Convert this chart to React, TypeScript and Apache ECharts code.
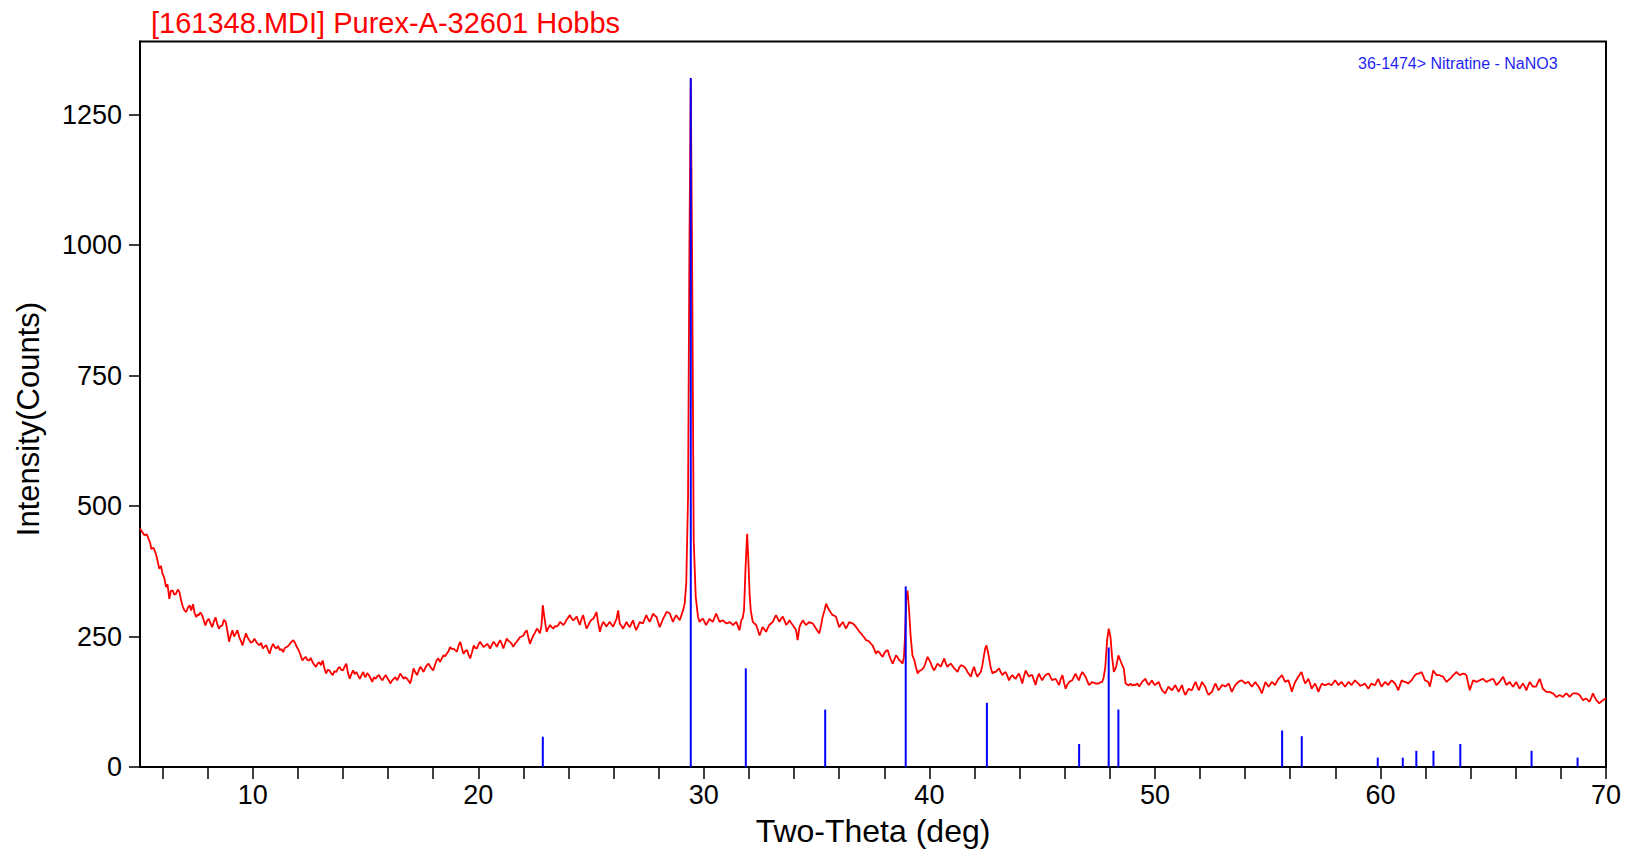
import React, { useEffect, useRef } from 'react';
import * as echarts from 'echarts';

// Measured scan (2θ in degrees, intensity in counts), split by range
const scanA: [number, number][] = [[5.0,457],[5.1,450],[5.2,444],[5.3,446],[5.37,438],[5.45,430],[5.5,418],[5.6,420],[5.7,409],[5.78,395],[5.85,380],[5.93,385],[6.0,370],[6.08,362],[6.15,345],[6.22,350],[6.3,322],[6.37,338],[6.45,338],[6.52,330],[6.6,332],[6.68,340],[6.75,335],[6.82,320],[6.9,307],[6.97,300],[7.05,297],[7.12,305],[7.2,310],[7.27,300],[7.35,312],[7.42,295],[7.5,287],[7.55,292],[7.6,291],[7.68,296],[7.75,291],[7.82,282],[7.9,271],[7.97,280],[8.05,284],[8.12,276],[8.2,268],[8.27,278],[8.35,287],[8.42,275],[8.5,265],[8.57,270],[8.65,271],[8.72,282],[8.8,278],[8.87,262],[8.95,240],[9.02,252],[9.1,262],[9.17,250],[9.25,256],[9.32,262],[9.4,249],[9.47,242],[9.55,233],[9.62,245],[9.7,256],[9.77,248],[9.85,243],[9.92,238],[10.0,240],[10.07,246],[10.15,240],[10.22,236],[10.3,233],[10.37,238],[10.45,227],[10.52,231],[10.6,233],[10.67,225],[10.75,217],[10.82,228],[10.9,236],[10.97,230],[11.05,227],[11.12,232],[11.2,224],[11.27,226],[11.35,220],[11.42,228],[11.5,230],[11.57,232],[11.65,236],[11.72,240],[11.8,243],[11.87,238],[11.95,230],[12.02,225],[12.1,217],[12.15,210],[12.2,204],[12.27,208],[12.35,211],[12.42,205],[12.5,204],[12.57,209],[12.65,201],[12.72,196],[12.8,192],[12.87,198],[12.95,201],[13.02,195],[13.1,204],[13.17,190],[13.25,179],[13.32,186],[13.4,185],[13.47,180],[13.55,176],[13.62,184],[13.7,182],[13.77,188],[13.85,192],[13.92,186],[14.0,185],[14.07,192],[14.15,198],[14.22,180],[14.3,169],[14.37,178],[14.45,185],[14.52,178],[14.6,182],[14.67,175],[14.75,169],[14.82,176],[14.9,182],[14.95,175],[15.0,172],[15.07,180],[15.15,176],[15.22,170],[15.3,163],[15.37,172],[15.45,169],[15.52,174],[15.6,176],[15.67,170],[15.75,166],[15.82,172],[15.9,176]];

const scanB: [number, number][] = [[15.97,170],[16.05,165],[16.1,160],[16.18,166],[16.25,169],[16.32,172],[16.4,166],[16.47,172],[16.54,179],[16.62,174],[16.69,169],[16.76,172],[16.84,169],[16.91,165],[16.98,160],[17.05,172],[17.13,189],[17.2,182],[17.28,176],[17.35,184],[17.43,192],[17.5,188],[17.57,182],[17.65,190],[17.72,195],[17.8,198],[17.87,192],[17.94,188],[18.0,185],[18.08,196],[18.16,205],[18.23,208],[18.3,201],[18.38,208],[18.46,214],[18.53,212],[18.6,217],[18.68,222],[18.75,230],[18.82,226],[18.9,227],[18.97,224],[19.05,221],[19.12,232],[19.2,240],[19.27,228],[19.34,217],[19.42,222],[19.5,224],[19.57,215],[19.64,208],[19.72,220],[19.8,233],[19.86,228],[19.93,227],[20.0,234],[20.08,240],[20.15,235],[20.23,230],[20.3,232],[20.4,236],[20.46,232],[20.52,227],[20.6,234],[20.67,240],[20.75,236],[20.82,230],[20.9,238],[20.97,243],[21.04,236],[21.11,227],[21.18,236],[21.26,246],[21.33,242],[21.4,240],[21.48,236],[21.55,230],[21.62,236],[21.7,240],[21.77,244],[21.85,249],[21.92,250],[22.0,252],[22.07,258],[22.15,262],[22.22,248],[22.29,236],[22.36,244],[22.44,252],[22.52,258],[22.6,265],[22.66,262],[22.73,256],[22.8,270],[22.86,310],[22.92,290],[22.99,269],[23.03,259],[23.1,266],[23.18,272],[23.25,268],[23.33,265],[23.4,270],[23.47,269],[23.55,272],[23.62,278],[23.7,275],[23.77,272],[23.84,276],[23.9,281],[23.98,286],[24.06,291],[24.13,285],[24.21,281],[24.28,284],[24.36,288],[24.43,280],[24.5,272],[24.58,284],[24.65,291],[24.72,278],[24.8,265],[24.88,272],[24.95,278],[25.02,282],[25.1,284],[25.17,290],[25.24,297],[25.3,280],[25.39,259],[25.46,270],[25.54,278],[25.61,274],[25.68,269],[25.76,274],[25.83,278],[25.9,273],[25.98,269],[26.05,276],[26.13,284],[26.2,300],[26.27,275],[26.35,270],[26.42,265],[26.5,272],[26.57,278],[26.64,272],[26.72,268],[26.79,275],[26.86,281],[26.93,270]];

const scanC: [number, number][] = [[27.0,262],[27.08,270],[27.16,278],[27.23,276],[27.3,275],[27.38,284],[27.45,291],[27.52,284],[27.6,278],[27.68,286],[27.75,294],[27.82,290],[27.9,288],[27.97,278],[28.04,268],[28.12,276],[28.19,284],[28.27,290],[28.34,297],[28.42,296],[28.49,294],[28.56,286],[28.63,278],[28.7,285],[28.78,291],[28.85,286],[28.93,281],[29.0,290],[29.08,300],[29.15,313],[29.22,352],[29.3,520],[29.36,1000],[29.42,1318],[29.48,980],[29.55,435],[29.64,326],[29.74,288],[29.81,278],[29.88,282],[29.96,284],[30.03,278],[30.1,272],[30.18,278],[30.25,284],[30.32,281],[30.4,278],[30.47,286],[30.55,294],[30.62,286],[30.7,278],[30.78,280],[30.85,281],[30.92,278],[31.0,275],[31.07,276],[31.14,278],[31.22,275],[31.3,272],[31.37,275],[31.44,278],[31.51,270],[31.58,262],[31.66,281],[31.72,285],[31.78,300],[31.85,383],[31.92,447],[31.97,400],[32.03,330],[32.08,300],[32.17,278],[32.24,275],[32.32,272],[32.4,262],[32.47,252],[32.54,260],[32.6,268],[32.68,264],[32.76,259],[32.83,266],[32.9,272],[32.98,275],[33.06,278],[33.13,285],[33.2,291],[33.28,284],[33.35,278],[33.42,284],[33.5,288],[33.58,280],[33.65,272],[33.72,276],[33.8,281],[33.87,276],[33.94,272],[34.02,267],[34.09,262],[34.16,243],[34.24,268],[34.31,275],[34.39,281],[34.46,276],[34.53,272],[34.6,275],[34.68,278],[34.75,276],[34.83,275],[34.9,270],[34.98,265],[35.05,260],[35.12,256],[35.2,272],[35.27,288],[35.35,300],[35.42,313],[35.5,305],[35.57,300],[35.64,295],[35.71,291],[35.79,290],[35.86,288],[35.93,278],[36.0,268],[36.08,273],[36.16,278],[36.23,272],[36.3,265],[36.38,272],[36.45,278],[36.52,276],[36.6,275],[36.68,272],[36.75,268],[36.82,264],[36.9,259],[36.97,256],[37.04,252],[37.12,248],[37.19,243],[37.27,242],[37.34,240],[37.41,236],[37.48,233],[37.56,225],[37.63,217],[37.7,222],[37.78,220],[37.85,215],[37.93,211],[38.0,218]];

const scanD: [number, number][] = [[38.07,222],[38.15,224],[38.22,214],[38.3,205],[38.37,198],[38.45,206],[38.52,214],[38.59,210],[38.66,205],[38.74,202],[38.81,198],[38.87,210],[38.92,250],[38.97,320],[39.03,338],[39.1,300],[39.17,250],[39.25,214],[39.33,205],[39.4,192],[39.48,179],[39.55,184],[39.62,185],[39.7,188],[39.77,192],[39.85,202],[39.92,211],[40.0,205],[40.07,198],[40.14,190],[40.21,185],[40.29,192],[40.36,198],[40.44,195],[40.51,192],[40.58,200],[40.66,208],[40.73,198],[40.8,192],[40.88,196],[40.95,198],[41.02,194],[41.1,189],[41.17,186],[41.25,182],[41.32,190],[41.4,195],[41.47,194],[41.54,192],[41.62,188],[41.69,182],[41.76,178],[41.84,173],[41.91,184],[41.98,192],[42.06,180],[42.13,173],[42.2,178],[42.28,182],[42.35,195],[42.42,214],[42.48,228],[42.53,233],[42.59,222],[42.65,208],[42.72,190],[42.8,179],[42.87,182],[42.94,182],[43.02,186],[43.09,189],[43.16,182],[43.24,176],[43.31,180],[43.38,182],[43.46,174],[43.53,166],[43.6,172],[43.68,176],[43.75,172],[43.83,169],[43.9,175],[43.97,179],[44.05,170],[44.12,160],[44.2,175],[44.27,185],[44.35,178],[44.42,173],[44.49,176],[44.56,176],[44.64,166],[44.71,157],[44.78,170],[44.86,179],[44.93,172],[45.0,166],[45.08,172],[45.15,176],[45.22,178],[45.3,179],[45.37,172],[45.45,166],[45.52,168],[45.6,169],[45.67,163],[45.75,157],[45.82,168],[45.9,176],[45.97,162],[46.04,150],[46.12,158],[46.2,163],[46.27,165],[46.33,166],[46.4,172],[46.48,179],[46.55,172],[46.63,166],[46.7,175],[46.78,182],[46.85,178],[46.92,173],[47.0,165],[47.07,157],[47.15,160],[47.22,163],[47.3,161],[47.37,160],[47.44,160],[47.5,160],[47.58,162],[47.66,163],[47.73,172],[47.8,192],[47.88,243],[47.95,265],[48.03,249],[48.1,211],[48.18,182],[48.28,192],[48.38,214],[48.46,205],[48.55,195],[48.62,189],[48.7,160],[48.77,158],[48.84,156],[48.92,160],[49.0,156]];

const scanE: [number, number][] = [[49.07,158],[49.14,157],[49.22,160],[49.3,154],[49.36,158],[49.43,163],[49.5,166],[49.58,169],[49.65,162],[49.73,157],[49.8,162],[49.87,166],[49.94,160],[50.0,157],[50.08,160],[50.17,163],[50.24,154],[50.32,147],[50.39,144],[50.46,141],[50.53,148],[50.6,154],[50.68,150],[50.76,147],[50.83,152],[50.9,157],[50.98,150],[51.05,144],[51.12,150],[51.2,157],[51.27,146],[51.35,138],[51.42,144],[51.5,150],[51.57,148],[51.64,147],[51.72,156],[51.8,163],[51.87,155],[51.94,147],[52.02,155],[52.09,163],[52.16,158],[52.23,154],[52.3,145],[52.38,138],[52.45,141],[52.53,144],[52.6,152],[52.68,160],[52.75,154],[52.82,147],[52.9,152],[52.97,157],[53.05,156],[53.12,154],[53.2,157],[53.27,160],[53.34,152],[53.41,144],[53.48,150],[53.56,157],[53.63,160],[53.7,163],[53.78,165],[53.86,166],[53.93,163],[54.0,160],[54.08,162],[54.15,163],[54.22,158],[54.3,154],[54.37,158],[54.45,163],[54.52,158],[54.6,154],[54.67,148],[54.74,141],[54.82,152],[54.9,163],[54.97,158],[55.04,154],[55.11,158],[55.18,163],[55.26,160],[55.33,157],[55.4,163],[55.48,169],[55.55,172],[55.63,176],[55.7,170],[55.77,163],[55.85,165],[55.92,166],[56.0,155],[56.07,144],[56.14,154],[56.22,163],[56.29,168],[56.36,173],[56.43,178],[56.5,182],[56.58,170],[56.66,160],[56.73,164],[56.8,169],[56.88,160],[56.95,150],[57.02,155],[57.1,160],[57.18,152],[57.25,144],[57.32,152],[57.4,160],[57.47,158],[57.54,157],[57.62,158],[57.7,160],[57.77,158],[57.84,157],[57.92,162],[57.99,166],[58.06,162],[58.13,157],[58.2,160],[58.28,163],[58.36,158],[58.43,154],[58.5,158],[58.58,163],[58.65,160],[58.72,157],[58.8,162],[58.87,166],[58.94,163],[59.02,160]];

const scanF: [number, number][] = [[59.1,155],[59.17,157],[59.24,158],[59.3,160],[59.38,155],[59.46,150],[59.53,155],[59.6,160],[59.68,158],[59.76,157],[59.83,163],[59.9,169],[59.98,160],[60.05,154],[60.12,158],[60.2,163],[60.28,160],[60.35,157],[60.42,162],[60.5,166],[60.57,163],[60.64,160],[60.72,154],[60.79,147],[60.86,156],[60.94,166],[61.01,164],[61.08,163],[61.16,162],[61.23,160],[61.3,163],[61.38,166],[61.45,171],[61.53,176],[61.6,178],[61.67,179],[61.75,180],[61.82,182],[61.9,174],[61.97,166],[62.05,165],[62.12,163],[62.19,154],[62.27,170],[62.34,185],[62.42,180],[62.49,176],[62.56,176],[62.63,176],[62.7,174],[62.78,173],[62.85,168],[62.93,163],[63.0,166],[63.08,169],[63.15,172],[63.22,176],[63.3,179],[63.37,182],[63.44,179],[63.52,176],[63.6,178],[63.67,179],[63.74,178],[63.81,176],[63.88,162],[63.96,147],[64.03,156],[64.11,166],[64.18,165],[64.26,163],[64.33,165],[64.4,166],[64.48,168],[64.55,169],[64.62,166],[64.7,163],[64.77,165],[64.84,166],[64.92,168],[65.0,169],[65.07,163],[65.14,157],[65.21,160],[65.28,163],[65.36,168],[65.44,173],[65.51,165],[65.58,157],[65.66,160],[65.73,163],[65.8,158],[65.88,154],[65.95,158],[66.02,163],[66.1,156],[66.17,150],[66.24,155],[66.32,160],[66.4,154],[66.47,147],[66.54,155],[66.62,163],[66.69,158],[66.76,154],[66.83,154],[66.9,154],[66.98,162],[67.06,169],[67.13,160],[67.2,150],[67.28,147],[67.35,144],[67.42,144],[67.5,144],[67.58,142],[67.65,141],[67.72,138],[67.8,134],[67.87,136],[67.94,138],[68.02,136],[68.09,134],[68.16,138],[68.24,141],[68.32,138],[68.39,134],[68.46,138],[68.54,141],[68.61,141],[68.68,141],[68.76,140],[68.83,138],[68.9,133],[68.98,128],[69.05,130],[69.12,131],[69.2,128],[69.27,125],[69.35,133],[69.42,141],[69.5,134],[69.57,128],[69.64,125],[69.7,122],[69.78,125],[69.86,128],[69.93,130],[70.0,131]];

// Reference pattern 36-1474 Nitratine - NaNO3: [2θ, drawn height in counts]
const nitratineSticks: [number, number][] = [[22.86,58],[29.42,1320],[31.86,189],[35.38,110],[38.95,346],[42.55,123],[46.64,44],[47.95,229],[48.38,110],[55.64,70],[56.51,59],[59.88,18],[60.99,18],[61.59,31],[62.35,31],[63.54,44],[66.7,31],[68.74,18]];

const xTickValues = [6, 8, 10, 12, 14, 16, 18, 20, 22, 24, 26, 28, 30, 32, 34, 36, 38, 40, 42, 44, 46, 48, 50, 52, 54, 56, 58, 60, 62, 64, 66, 68, 70];
const xLabelValues = [10, 20, 30, 40, 50, 60, 70];
const yTickValues = [0, 250, 500, 750, 1000, 1250];

const titleText = '[161348.MDI] Purex-A-32601 Hobbs';
const legendText = '36-1474> Nitratine - NaNO3';
const xName = 'Two-Theta (deg)';
const yName = 'Intensity(Counts)';

const FONT = '"Liberation Sans", Arial, sans-serif';

export default function App() {
  const ref = useRef<HTMLDivElement>(null);
  useEffect(() => {
    if (!ref.current) return;
    const chart = echarts.init(ref.current, null, { renderer: 'svg' });
    const scan = [...scanA, ...scanB, ...scanC, ...scanD, ...scanE, ...scanF];
    chart.setOption({
      animation: false,
      backgroundColor: '#ffffff',
      title: {
        text: titleText,
        left: 151,
        top: 8,
        padding: 0,
        textStyle: { color: '#ff0000', fontSize: 29, fontWeight: 'normal', fontFamily: FONT },
      },
      grid: {
        left: 140,
        right: 23,
        top: 41.5,
        bottom: 85,
        show: true,
        borderColor: '#000',
        borderWidth: 2,
        backgroundColor: 'transparent',
      },
      xAxis: {
        type: 'value',
        min: 5,
        max: 70,
        name: xName,
        nameLocation: 'middle',
        nameGap: 48,
        nameTextStyle: { fontSize: 32, color: '#000', fontFamily: FONT },
        axisLine: { show: true, onZero: false, lineStyle: { color: '#000', width: 2 } },
        axisTick: { show: true, customValues: xTickValues, length: 12, lineStyle: { color: '#000', width: 1.5 } },
        axisLabel: { customValues: xLabelValues, fontSize: 27, color: '#000', margin: 14, fontFamily: FONT, formatter: (v: number) => String(v) },
        splitLine: { show: false },
      },
      yAxis: {
        type: 'value',
        min: 0,
        max: 1390,
        axisLine: { show: true, lineStyle: { color: '#000', width: 2 } },
        axisTick: { show: true, customValues: yTickValues, length: 11, lineStyle: { color: '#000', width: 1.5 } },
        axisLabel: { customValues: yTickValues, fontSize: 27, color: '#000', margin: 18, fontFamily: FONT, formatter: (v: number) => String(v) },
        splitLine: { show: false },
      },
      graphic: [
        {
          type: 'text',
          x: 1358,
          y: 63,
          style: { text: legendText, fill: '#1f1ff2', font: `16px ${FONT}`, textVerticalAlign: 'middle' },
        },
        {
          type: 'text',
          x: 28,
          y: 419,
          rotation: Math.PI / 2,
          style: { text: yName, fill: '#000', font: `31px ${FONT}`, textAlign: 'center', textVerticalAlign: 'middle' },
        },
      ],
      series: [
        {
          type: 'line',
          name: 'scan',
          data: scan,
          showSymbol: false,
          symbol: 'none',
          clip: true,
          z: 2,
          lineStyle: { color: '#ff0000', width: 1.8 },
        },
        {
          type: 'custom',
          name: 'sticks',
          data: nitratineSticks,
          z: 3,
          renderItem: (params: any, api: any) => {
            const x = api.value(0);
            const h = api.value(1);
            const p0 = api.coord([x, 0]);
            const p1 = api.coord([x, h]);
            return {
              type: 'line',
              shape: { x1: p0[0], y1: p0[1], x2: p1[0], y2: p1[1] },
              style: { stroke: '#0000ff', lineWidth: 2 },
            };
          },
        },
      ],
    });
    return () => chart.dispose();
  }, []);
  return <div ref={ref} style={{ position: 'fixed', left: 0, top: 0, width: 1629, height: 852 }} />;
}
